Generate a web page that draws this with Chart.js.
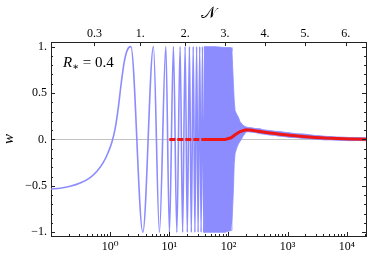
<html>
<head>
  <meta name="viewport" content="width=device-width, initial-scale=1">
  <script type="text/javascript" src="https://cdn.jsdelivr.net/npm/chart.js@4.4.0/dist/chart.umd.min.js"></script>
  <style>
    body { margin: 0; background: #fff; }
    #wrap { width: 374px; height: 256px; }
  </style>
</head>
<body>
  <div id="wrap"><canvas id="ctx"></canvas></div>

  <script type="text/javascript">

    // blue curve: smooth start then the peaks / troughs
    blueX = [0.1, 0.143, 0.211, 0.311, 0.459, 0.603, 0.762, 0.925, 1.081, 1.215, 1.365, 1.534, 1.724, 1.938, 2.237,
             3.567, 5.387, 6.803, 8.729, 10.04, 11.73, 13.39, 15.22, 16.78, 18.49, 20.14, 21.86, 23.53, 25.33,
             27.07, 28.92, 30.66, 32.63, 34.44, 36.37, 38.27, 40.25];
    blueW = [-0.533, -0.525, -0.505, -0.47, -0.41, -0.34, -0.25, -0.14, -0.02, 0.12, 0.33, 0.6, 0.83, 0.96, 1.0,
             -1, 1, -1, 1, -1, 1, -1, 1, -1, 1, -1, 1, -1, 1,
             -1, 1, -1, 1, -1, 1, -1, 1];

    // dense part of the blue curve: lower and upper edge of the band
    bandX  = [38.7, 59.4, 87.6, 110.6, 114.5, 117.3, 121, 125, 129.3, 138.1, 146.9, 157, 178.5, 198.3, 214.3,
              250, 281, 342, 384, 449, 504, 613, 744, 904, 1098, 1441, 1820, 2390, 2903, 3526, 4283, 5202,
              6832, 8626, 11330, 14870, 21100];
    bandLo = [-1, -1, -1, -0.98, -0.9, -0.75, -0.55, -0.26, -0.15, -0.09, -0.05, -0.02, 0.04, 0.08, 0.083,
              0.078, 0.075, 0.062, 0.058, 0.052, 0.047, 0.043, 0.034, 0.03, 0.022, 0.019, 0.01, 0.008, 0.002,
              0.0, -0.005, -0.004, -0.009, -0.01, -0.013, -0.011, -0.014];
    bandHi = [1, 1, 0.99, 0.99, 0.95, 0.8, 0.6, 0.42, 0.31, 0.27, 0.24, 0.19, 0.15, 0.135, 0.13,
              0.125, 0.118, 0.116, 0.104, 0.1, 0.096, 0.088, 0.086, 0.077, 0.071, 0.061, 0.06, 0.05, 0.043,
              0.04, 0.034, 0.031, 0.027, 0.025, 0.021, 0.02, 0.019];

    // red points
    redX = [10, 20, 40, 87.6, 110.6, 129.3, 157, 198.3, 250, 281, 384, 504, 613, 744, 1098, 1820, 2903, 4283, 6832, 11330, 21100];
    redW = [0, 0, 0, 0, 0.018, 0.05, 0.085, 0.104, 0.1, 0.093, 0.08, 0.07, 0.064, 0.057, 0.045, 0.033, 0.022, 0.015, 0.01, 0.006, 0.003];

    xTicks = [1, 10, 100, 1000, 10000];
    xLabels = ['10⁰', '10¹', '10²', '10³', '10⁴'];
    topTickX = [0.543, 3.21, 18.5, 87.6, 415, 1967, 9582];
    topLabels = ['0.3', '1.', '2.', '3.', '4.', '5.', '6.'];
    yTicks = [-1, -0.5, 0, 0.5, 1];
    yLabels = ['−1.', '−0.5', '0.', '0.5', '1.'];

    blue = 'rgb(140,140,255)';
    serif = '"Liberation Serif", "DejaVu Serif", serif';
    tickFont = { family: serif, size: 12 };

    pts = function(xs, ys) {
      return xs.map((x, i) => ({ x: x, y: ys[i] }));
    };

    frameTicks = {
      id: 'frameTicks',
      afterDraw(chart) {
        var c = chart.ctx, a = chart.chartArea, s = chart.scales;
        c.save();
        c.strokeStyle = '#222';
        c.lineWidth = 1;
        var line = function(x1, y1, x2, y2) {
          c.beginPath(); c.moveTo(x1, y1); c.lineTo(x2, y2); c.stroke();
        };
        for (var i = -10; i <= 10; i++) {
          var y = Math.round(s.y.getPixelForValue(i / 10)) + 0.5;
          var len = i % 5 == 0 ? 4 : 2;
          line(a.left, y, a.left + len, y);
          line(a.right, y, a.right - len, y);
        }
        for (var e = -1; e <= 4; e++) {
          for (var k = 1; k < 10; k++) {
            var v = k * Math.pow(10, e);
            if (v < s.x.min || v > s.x.max) continue;
            var x = Math.round(s.x.getPixelForValue(v)) + 0.5;
            line(x, a.bottom, x, a.bottom - (k == 1 ? 4 : 2));
          }
        }
        topTickX.forEach(function(v) {
          var x = Math.round(s.x2.getPixelForValue(v)) + 0.5;
          line(x, a.top, x, a.top + 4);
        });
        // R_* = 0.4
        c.fillStyle = '#000';
        c.textBaseline = 'alphabetic';
        c.font = 'italic 15px ' + serif;
        c.fillText('R', 63, 67);
        var w = c.measureText('R').width;
        c.font = '10px ' + serif;
        c.fillText('∗', 63 + w, 70);
        var w2 = c.measureText('∗').width;
        c.font = '15px ' + serif;
        c.fillText(' = 0.4', 63 + w + w2, 67);
        c.restore();
      }
    };

    chart = new Chart(document.getElementById('ctx'), {
      type: 'line',
      data: {
        datasets: [{
          data: pts(redX, redW),
          borderColor: 'rgb(238,22,22)',
          borderWidth: 3,
          pointRadius: 0,
          fill: false,
          order: 0,
          segment: {
            borderDash: ctx => ctx.p1.parsed.x <= 40 ? [6, 2] : undefined
          }
        }, {
          data: pts(blueX, blueW),
          borderColor: blue,
          borderWidth: 1.6,
          pointRadius: 0,
          fill: false,
          cubicInterpolationMode: 'monotone',
          order: 1
        }, {
          data: pts(bandX, bandHi),
          borderColor: blue,
          borderWidth: 0.8,
          backgroundColor: blue,
          pointRadius: 0,
          fill: '+1',
          order: 2
        }, {
          data: pts(bandX, bandLo),
          borderColor: blue,
          borderWidth: 0.8,
          pointRadius: 0,
          fill: false,
          order: 3
        }]
      },
      options: {
        responsive: true,
        maintainAspectRatio: false,
        animation: false,
        layout: { padding: { left: 0, right: 8, top: 0, bottom: 0 } },
        plugins: { legend: { display: false }, tooltip: { enabled: false } },
        scales: {
          x: {
            type: 'logarithmic', position: 'bottom', min: 0.1, max: 21100,
            afterFit: s => { s.height = 20; },
            afterBuildTicks: s => { s.ticks = xTicks.map(v => ({ value: v })); },
            ticks: { callback: (v) => xLabels[xTicks.indexOf(v)], font: tickFont, color: '#000', padding: 4, maxRotation: 0, autoSkip: false },
            grid: { display: false, drawTicks: false },
            border: { display: true, color: '#222', width: 1 }
          },
          x2: {
            type: 'logarithmic', position: 'top', min: 0.1, max: 21100,
            afterFit: s => { s.height = 42; },
            afterBuildTicks: s => { s.ticks = topTickX.map(v => ({ value: v })); },
            ticks: { callback: (v) => topLabels[topTickX.indexOf(v)], font: tickFont, color: '#000', padding: 1, maxRotation: 0, autoSkip: false },
            grid: { display: false, drawTicks: false },
            border: { display: true, color: '#222', width: 1 },
            title: { display: true, text: '𝒩', font: { family: serif, size: 16 }, color: '#000', padding: { top: 4, bottom: 0 } }
          },
          y: {
            position: 'left', min: -1.04, max: 1.05,
            afterFit: s => { s.width = 51; },
            afterBuildTicks: s => { s.ticks = yTicks.map(v => ({ value: v })); },
            ticks: { callback: (v) => yLabels[yTicks.indexOf(v)], font: tickFont, color: '#000', padding: 4 },
            grid: {
              drawTicks: false,
              color: ctx => ctx.tick && ctx.tick.value === 0 ? 'rgb(195,195,195)' : 'rgba(0,0,0,0)'
            },
            border: { display: true, color: '#222', width: 1 },
            title: { display: true, text: 'w', font: { family: serif, size: 15, style: 'italic' }, color: '#000', padding: { top: 0, bottom: 0 } }
          },
          y2: {
            position: 'right', min: -1.04, max: 1.05,
            afterFit: s => { s.width = 0; },
            ticks: { display: false },
            grid: { display: false, drawTicks: false },
            border: { display: true, color: '#222', width: 1 }
          }
        }
      },
      plugins: [frameTicks]
    });

  </script>
</body>
</html>
